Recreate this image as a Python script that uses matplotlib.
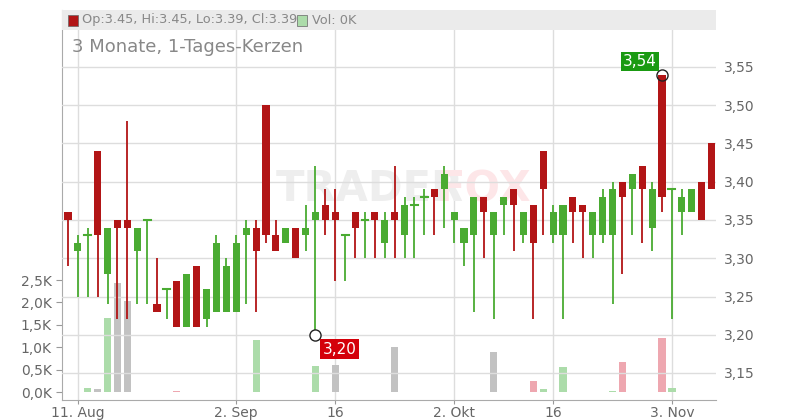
import matplotlib
matplotlib.use("Agg")
import matplotlib.pyplot as plt
from matplotlib.patches import Rectangle

opens  = [3.36,3.31,3.33,3.44,3.28,3.35,3.35,3.31,3.35,3.24,3.26,3.27,3.21,3.29,3.22,3.23,3.23,3.23,3.33,3.34,3.50,3.33,3.32,
          3.34,3.33,3.35,3.37,3.36,3.33,3.36,3.35,3.36,3.32,3.36,3.33,3.37,3.38,3.39,3.39,3.35,3.32,3.33,3.38,3.33,3.37,
          3.39,3.33,3.37,3.44,3.33,3.33,3.38,3.37,3.33,3.33,3.33,3.40,3.39,3.42,3.34,3.54,3.39,3.36,3.36,3.40,3.45]
closes = [3.35,3.32,3.33,3.33,3.34,3.34,3.34,3.34,3.35,3.23,3.26,3.21,3.28,3.21,3.26,3.32,3.29,3.32,3.34,3.31,3.33,3.31,3.34,
          3.30,3.34,3.36,3.35,3.35,3.33,3.34,3.35,3.35,3.35,3.35,3.37,3.37,3.38,3.38,3.41,3.36,3.34,3.38,3.36,3.36,3.38,
          3.37,3.36,3.32,3.39,3.36,3.37,3.36,3.36,3.36,3.38,3.39,3.38,3.41,3.39,3.39,3.38,3.39,3.38,3.39,3.35,3.39]
highs  = [3.36,3.33,3.34,3.44,3.34,3.35,3.48,3.34,3.35,3.30,3.26,3.27,3.28,3.29,3.26,3.33,3.30,3.33,3.35,3.35,3.50,3.35,3.34,
          3.34,3.37,3.42,3.39,3.39,3.33,3.36,3.36,3.36,3.36,3.42,3.38,3.38,3.39,3.39,3.42,3.36,3.34,3.38,3.38,3.36,3.38,
          3.39,3.36,3.37,3.44,3.37,3.37,3.38,3.37,3.36,3.39,3.40,3.40,3.41,3.42,3.40,3.54,3.39,3.39,3.39,3.40,3.45]
lows   = [3.29,3.25,3.25,3.25,3.24,3.22,3.22,3.24,3.24,3.23,3.22,3.21,3.21,3.21,3.21,3.23,3.23,3.23,3.24,3.23,3.32,3.31,3.32,
          3.30,3.31,3.20,3.33,3.27,3.27,3.30,3.30,3.30,3.30,3.30,3.30,3.30,3.33,3.33,3.34,3.32,3.29,3.23,3.30,3.22,3.33,
          3.31,3.32,3.22,3.33,3.32,3.22,3.32,3.30,3.30,3.32,3.24,3.28,3.33,3.32,3.31,3.36,3.22,3.33,3.36,3.35,3.39]
vol_idx = [2,3,4,5,6,11,19,25,27,33,43,47,48,50,55,56,60,61]
vol_k   = [0.09,0.07,1.65,2.43,2.03,0.03,1.16,0.58,0.60,1.00,0.90,0.25,0.07,0.56,0.03,0.67,1.20,0.09]
vol_col = ['g','x','g','x','x','r','g','g','x','x','x','r','g','g','g','r','r','g']
tick_idx = [1,17,27,39,49,61]
tick_lab = ["11. Aug","2. Sep","16","2. Okt","16","3. Nov"]
price_ticks = [3.15,3.20,3.25,3.30,3.35,3.40,3.45,3.50,3.55]
vol_ticks = [0.0,0.5,1.0,1.5,2.0,2.5]

UP, DN = "#4aab32", "#b21516"
VC = {'g': "#acdcaa", 'r': "#eea7b0", 'x': "#c2c2c2"}

fig = plt.figure(figsize=(8,4.2), dpi=100)
W, H = 800, 420
rect = [62/W, 1-400/H, (716-62)/W, 390/H]
axv = fig.add_axes(rect)
ax = axv.twinx()
axv.set_zorder(1); ax.set_zorder(2); ax.patch.set_visible(False)
axv.set_facecolor("white")

xl = (-0.6, 65.45)
ax.set_xlim(*xl); axv.set_xlim(*xl)
ax.set_ylim(3.15-27/765, 3.15+363/765)
axv.set_ylim(-8*2.5/112, 382*2.5/112)

for i in range(len(opens)):
    o, c, h, l = opens[i], closes[i], highs[i], lows[i]
    col = UP if c >= o else DN
    ax.plot([i,i],[l,h], color=col, lw=1.3, solid_capstyle='butt', zorder=3)
    if abs(c-o) < 1e-9:
        ax.plot([i-0.35,i+0.35],[o,o], color=col, lw=1.5, zorder=3)
    else:
        ax.add_patch(Rectangle((i-0.36, min(o,c)), 0.72, abs(c-o), color=col, lw=0, zorder=4))

axv.bar(vol_idx, vol_k, width=0.72, color=[VC[c] for c in vol_col], zorder=2)

ax.set_yticks(price_ticks)
ax.set_yticklabels([f"{p:.2f}".replace(".",",") for p in price_ticks])
axv.set_yticks(vol_ticks)
axv.set_yticklabels([f"{v:.1f}K".replace(".",",") for v in vol_ticks])
ax.set_xticks(tick_idx); axv.set_xticks(tick_idx)
axv.set_xticklabels(tick_lab)
ax.tick_params(axis='x', labelbottom=False, length=0)
for a in (ax, axv):
    a.tick_params(colors="#999999", labelcolor="#666666", labelsize=10)
    for s in a.spines.values():
        s.set_visible(False)
axv.tick_params(axis='x', length=3, pad=1)
axv.tick_params(axis='y', length=4)
ax.tick_params(axis='y', length=0, pad=6)
ax.grid(axis='y', color="#dddddd", lw=1, zorder=0)
axv.grid(axis='x', color="#dddddd", lw=1, zorder=0)
axv.spines['left'].set_visible(True); axv.spines['left'].set_color("#aaaaaa")
axv.spines['bottom'].set_visible(True); axv.spines['bottom'].set_color("#aaaaaa")

# watermark
ax.text(30.5, 3.39, "TRADER", fontsize=30, fontweight='bold', color="#eeeeee", ha='center', va='center', zorder=1)
ax.text(42, 3.39, "FOX", fontsize=30, fontweight='bold', color="#fde6e8", ha='center', va='center', zorder=1)

# annotations
ax.plot([25],[3.20], marker='o', ms=8, mfc='white', mec='#222222', mew=1, zorder=6)
ax.text(25.7, 3.181, "3,20", color='white', fontsize=11, ha='left', va='center', zorder=7,
        bbox=dict(boxstyle='square,pad=0.15', fc="#d4000a", ec='none'))
ax.plot([60],[3.54], marker='o', ms=8, mfc='none', mec='#222222', mew=1, zorder=6)
ax.text(59.5, 3.557, "3,54", color='white', fontsize=11, ha='right', va='center', zorder=7,
        bbox=dict(boxstyle='square,pad=0.15', fc="#1a9a12", ec='none'))

# header
fig.patches.append(Rectangle((62/W, 1-30/H), (716-62)/W, 20/H, transform=fig.transFigure, fc="#ebebeb", ec='none'))
fig.patches.append(Rectangle((68/W, 1-26/H), 10/W, 11/H, transform=fig.transFigure, fc=DN, ec='#666666', lw=0.5))
fig.text(82/W, 1-20/H, "Op:3.45, Hi:3.45, Lo:3.39, Cl:3.39", fontsize=9.3, color="#888888", va='center')
fig.patches.append(Rectangle((297/W, 1-26/H), 10/W, 11/H, transform=fig.transFigure, fc="#acdcaa", ec='#666666', lw=0.5))
fig.text(312/W, 1-20/H, "Vol: 0K", fontsize=9.3, color="#888888", va='center')
fig.text(72/W, 1-47/H, "3 Monate, 1-Tages-Kerzen", fontsize=13, color="#888888", va='center')

fig.savefig("out.png", dpi=100)
